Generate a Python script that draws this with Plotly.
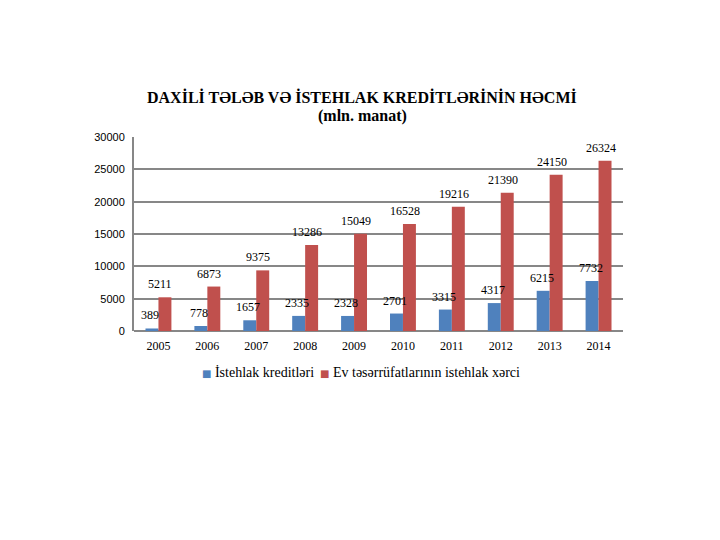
import plotly.graph_objects as go

years = ["2005", "2006", "2007", "2008", "2009", "2010", "2011", "2012", "2013", "2014"]
consumer_credits = [389, 778, 1657, 2335, 2328, 2701, 3315, 4317, 6215, 7732]
household_spending = [5211, 6873, 9375, 13286, 15049, 16528, 19216, 21390, 24150, 26324]
series_names = ["İstehlak kreditləri", "Ev təsərrüfatlarının istehlak xərci"]
colors = ["#4F81BD", "#C0504D"]

SERIF = "Liberation Serif, Times New Roman, serif"
SANS = "Liberation Sans, Arial, sans-serif"

fig = go.Figure()
fig.add_trace(go.Bar(x=years, y=consumer_credits, name=series_names[0],
                     marker=dict(color=colors[0], line=dict(width=0))))
fig.add_trace(go.Bar(x=years, y=household_spending, name=series_names[1],
                     marker=dict(color=colors[1], line=dict(width=0))))

# target plot area in page pixels; the page body adds an 8px offset
OFF = 8
plot_l, plot_r, plot_t, plot_b = 134, 623, 137, 331
W, H = 720, 540
def px_to_paper(px, py):
    return (px - plot_l) / (plot_r - plot_l), (plot_b - py) / (plot_b - plot_t)

anns = []
for i, yr in enumerate(years):
    anns.append(dict(x=i, y=consumer_credits[i], xref="x", yref="y",
                     text=str(consumer_credits[i]), showarrow=False,
                     xshift=-8, yshift=13, yanchor="middle",
                     font=dict(family=SERIF, size=12, color="#000")))
    anns.append(dict(x=i, y=household_spending[i], xref="x", yref="y",
                     text=str(household_spending[i]), showarrow=False,
                     xshift=2, yshift=13, yanchor="middle",
                     font=dict(family=SERIF, size=12, color="#000")))

tx, ty = px_to_paper(362, 97)
sx, sy = px_to_paper(362, 116)
anns.append(dict(x=tx, y=ty, xref="paper", yref="paper",
                 text="<b>DAXİLİ TƏLƏB VƏ İSTEHLAK KREDİTLƏRİNİN HƏCMİ</b>",
                 showarrow=False, yanchor="middle",
                 font=dict(family=SERIF, size=16, color="#000")))
anns.append(dict(x=sx, y=sy, xref="paper", yref="paper",
                 text="<b>(mln. manat)</b>", showarrow=False, yanchor="middle",
                 font=dict(family=SERIF, size=16, color="#000")))

# compact legend (small square + name), as in the reference
legend_x_px = [200, 318]
for name, col, lxp in zip(series_names, colors, legend_x_px):
    lx, ly = px_to_paper(lxp, 372)
    anns.append(dict(x=lx, y=ly, xref="paper", yref="paper", xanchor="left", yanchor="middle",
                     showarrow=False,
                     text=f"<span style='color:{col};font-size:10px;font-family:DejaVu Sans'>■</span> {name}",
                     font=dict(family=SERIF, size=14, color="#000")))

ml = plot_l - OFF
mt = plot_t - OFF
mr = W - ml - (plot_r - plot_l)
mb = H - mt - (plot_b - plot_t)

fig.update_layout(
    annotations=anns,
    width=W, height=H,
    margin=dict(l=ml, r=mr, t=mt, b=mb, pad=0),
    paper_bgcolor="white", plot_bgcolor="white",
    barmode="group", bargap=0.47, bargroupgap=0,
    showlegend=False,
    xaxis=dict(type="category", range=[-0.5, len(years) - 0.5], autorange=False,
               showgrid=False, showline=False, ticks="", ticklabelstandoff=6,
               tickfont=dict(family=SERIF, size=12, color="#000")),
    yaxis=dict(range=[0, 30000], autorange=False, dtick=5000, showgrid=True, gridcolor="#878787",
               gridwidth=2, zeroline=True, zerolinecolor="#878787", zerolinewidth=2,
               showline=True, linecolor="#878787", linewidth=2,
               ticks="", tickformat="d", ticklabelstandoff=5,
               tickfont=dict(family=SANS, size=11, color="#000")),
)

fig.write_html("out.html")
